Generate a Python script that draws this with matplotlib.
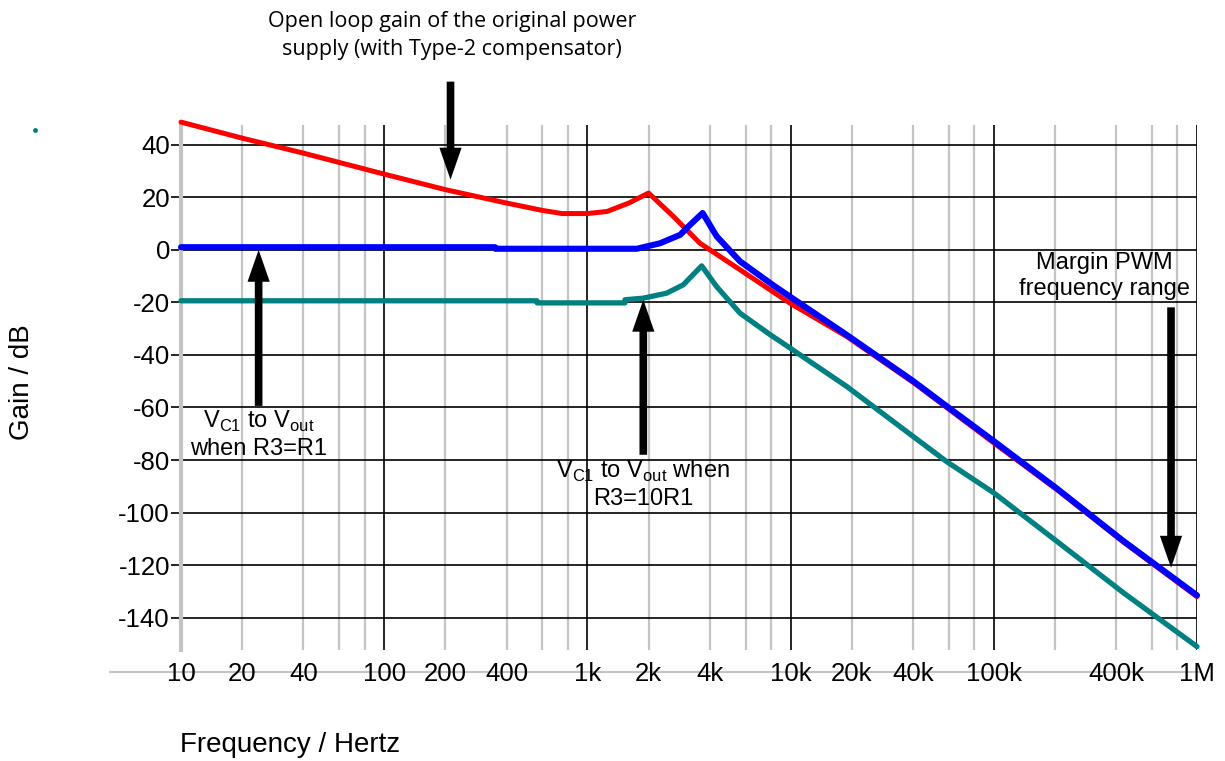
import numpy as np
import matplotlib
matplotlib.use("Agg")
import matplotlib.pyplot as plt
from matplotlib.lines import Line2D

plt.rcParams['font.family'] = ['Liberation Sans', 'DejaVu Sans']
plt.rcParams['mathtext.fontset'] = 'custom'
plt.rcParams['mathtext.rm'] = 'Liberation Sans'

# values (Hz, dB)
red_f = [10, 20, 40, 100, 200, 400, 600, 750, 1000, 1250, 1600, 2000,
         2650, 3580, 5640, 9930, 18900, 40200, 58600, 100000, 204000, 434000, 1e6]
red_db = [48.6, 42.5, 36.8, 28.8, 22.9, 17.8, 15.0, 13.8, 13.8, 14.6, 17.8, 21.6,
          12.7, 2.5, -7.6, -20.3, -33.0, -50.5, -60.0, -73.5, -91.2, -111.2, -132.0]

blue_f = [10, 351, 352, 1750, 2280, 2860, 3200, 3690, 4330, 5640, 8220, 10700,
          18900, 40200, 58600, 100000, 204000, 434000, 1e6]
blue_db = [1.0, 1.0, 0.4, 0.4, 2.5, 5.7, 9.5, 14.0, 5.1, -4.4, -13.5, -19.5,
           -32.4, -50.0, -59.5, -72.8, -90.8, -110.8, -131.5]

teal_f = [10, 565, 566, 1530, 1531, 1884, 2454, 2965, 3650, 4325, 5636, 7930,
          8870, 18880, 40200, 58600, 100000, 204000, 434000, 1e6]
teal_db = [-19.4, -19.4, -20.2, -20.2, -19.0, -18.4, -16.5, -13.3, -6.1, -14.0, -24.1, -32.3,
           -34.8, -52.0, -71.1, -80.6, -92.5, -110.9, -130.5, -151.0]

xtick_vals = [10, 20, 40, 100, 200, 400, 1e3, 2e3, 4e3, 1e4, 2e4, 4e4, 1e5, 4e5, 1e6]
xtick_labels = ['10', '20', '40', '100', '200', '400', '1k', '2k', '4k',
                '10k', '20k', '40k', '100k', '400k', '1M']
ytick_vals = list(range(-140, 41, 20))

fig = plt.figure(figsize=(12.25, 7.61), dpi=100)
ax = fig.add_axes([181 / 1225, 1 - 650 / 761, 1016 / 1225, 525 / 761])
ax.set_xscale('log')
ax.set_xlim(10, 1e6)
ax.set_ylim(-152.3, 47.5)

# vertical grid: decades black, 2/4/6/8 gray
decades = 10.0 ** np.arange(1, 7)
minors = np.array([m * d for d in decades[:-1] for m in (2, 4, 6, 8)])
ax.vlines(minors, 0, 1, transform=ax.get_xaxis_transform(), color='#c4c4c4', lw=1.6, zorder=1)
ax.vlines(decades[1:], 0, 1, transform=ax.get_xaxis_transform(), color='black', lw=1.2, zorder=1.2)
for yv in ytick_vals:
    ax.axhline(yv, color='black', lw=1.2, zorder=1.1)

ax.plot(teal_f, teal_db, color='#008080', lw=3.8, solid_capstyle='round', zorder=3, clip_on=False)
ax.plot(red_f, red_db, color='#ff0000', lw=3.6, solid_capstyle='round', zorder=3.1, clip_on=False)
ax.plot(blue_f, blue_db, color='#0000ff', lw=4.4, solid_capstyle='round', zorder=3.2, clip_on=False)

for s in ['top', 'right', 'bottom']:
    ax.spines[s].set_visible(False)
ax.spines['left'].set_color('#c4c4c4')
ax.spines['left'].set_linewidth(3)

ax.set_yticks(ytick_vals)
ax.set_yticklabels([str(v) for v in ytick_vals])
ax.tick_params(axis='y', length=7, width=1.2, color='black', pad=1, labelsize=18.5)
ax.set_xticks(xtick_vals)
ax.set_xticklabels(xtick_labels)
ax.xaxis.set_minor_locator(plt.NullLocator())
ax.tick_params(axis='x', length=0, pad=8.5, labelsize=18.5)

# gray axis line running through the tick labels
ax.plot([-0.07, 1.003], [-0.042, -0.042], transform=ax.transAxes, color='#c4c4c4',
        lw=1.5, clip_on=False, zorder=0)

fig.text(22 / 1225, 1 - 382 / 761, 'Gain / dB', rotation=90, fontsize=20,
         ha='center', va='center')
fig.text(180 / 1225, 1 - 745 / 761, 'Frequency / Hertz', fontsize=20,
         ha='left', va='center')
fig.add_artist(Line2D([35 / 1225], [1 - 130 / 761], marker='o', ms=2.5,
                      color='#008080', lw=0))

arrow_kw = dict(arrowstyle='simple,head_length=2.3,head_width=1.6,tail_width=0.55',
                color='black', lw=0, mutation_scale=10, shrinkA=0, shrinkB=0)

def arrow(x, y_tail, y_tip):
    ax.annotate('', xy=(x, y_tip), xytext=(x, y_tail),
                arrowprops=arrow_kw, annotation_clip=False, zorder=5)

arrow(212, 64, 26.7)
arrow(24.1, -59.4, 0)
arrow(1884, -78, -19)
arrow(745000, -21.9, -121)

ax.text(216, 81.5, 'Open loop gain of the original power\nsupply (with Type-2 compensator)',
        ha='center', va='center', fontsize=15.5, family=['Open Sans', 'DejaVu Sans'],
        linespacing=1.45)
ax.text(24.1, -70.2, 'V$_{\\rm C1}$ to V$_{\\rm out}$\nwhen R3=R1', ha='center', va='center',
        fontsize=17, linespacing=1.25, zorder=6)
ax.text(1884, -89.2, 'V$_{\\rm C1}$ to V$_{\\rm out}$ when\nR3=10R1', ha='center', va='center',
        fontsize=17, linespacing=1.25, zorder=6)
ax.text(352000, -9.9, 'Margin PWM\nfrequency range', ha='center', va='center',
        fontsize=17, linespacing=1.25, zorder=6)

fig.savefig('out.png', dpi=100)
